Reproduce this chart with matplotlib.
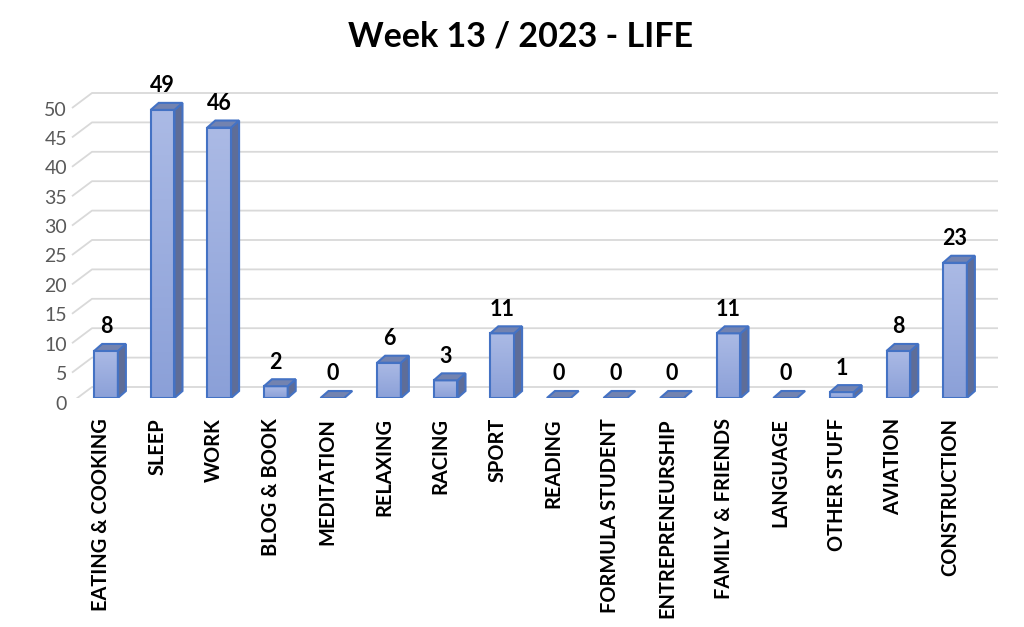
# -*- coding: utf-8 -*-
"""
    Week 13 / 2023 - LIFE : 3D-style bar chart (Excel look)
"""
import numpy as np
import matplotlib.pyplot as plt
from matplotlib.patches import Polygon, Rectangle
from matplotlib.colors import LinearSegmentedColormap
from matplotlib.transforms import offset_copy

plt.rcParams['font.family'] = ['Lato', 'DejaVu Sans']

categories = ['EATING & COOKING', 'SLEEP', 'WORK', 'BLOG & BOOK', 'MEDITATION',
              'RELAXING', 'RACING', 'SPORT', 'READING', 'FORMULA STUDENT',
              'ENTREPRENEURSHIP', 'FAMILY & FRIENDS', 'LANGUAGE', 'OTHER STUFF',
              'AVIATION', 'CONSTRUCTION']
hours = [8, 49, 46, 2, 0, 6, 3, 11, 0, 0, 0, 11, 0, 1, 8, 23]
y_ticks = [0, 5, 10, 15, 20, 25, 30, 35, 40, 45, 50]
title = 'Week 13 / 2023 - LIFE'

# pixel geometry of the picture
W, H = 1024, 627
x0_px, step_px = 106, 56.6      # first bar centre, bar spacing
y0_px, unit_px = 398, 5.88      # bar baseline, pixels per hour
ax_l, ax_r, ax_t = 60, 1010, 60


def px_x(p):
    return p / step_px


def px_y(p):
    return p / unit_px


fig = plt.figure(figsize=(W / 100, H / 100), dpi=100)
ax = fig.add_axes([ax_l / W, 1 - y0_px / H, (ax_r - ax_l) / W, (y0_px - ax_t) / H])
xlim = ((ax_l - x0_px) / step_px, (ax_r - x0_px) / step_px)
ylim = (0, (y0_px - ax_t) / unit_px)
ax.axis('off')

# floor / wall gridlines
grid_c = '#d9d9d9'
for v in y_ticks:
    yf = v - px_y(4)
    yb = v + px_y(11)
    xf = (72 - x0_px) / step_px
    xb = (92 - x0_px) / step_px
    xe = (998 - x0_px) / step_px
    ax.plot([xf, xb, xe], [yf, yb, yb], color=grid_c, lw=1.3, zorder=1,
            solid_capstyle='butt')
    ax.text((67 - x0_px) / step_px, yf - px_y(2), str(v), ha='right', va='center',
            fontsize=14, color='#595959')

# bars
bar_w = 0.42
dx, dy = px_x(8), px_y(7)
edge = '#4472c4'
cmap = LinearSegmentedColormap.from_list('front', ['#8ba0d8', '#abbae5'])
grad = np.linspace(0, 1, 100).reshape(-1, 1)
x = np.arange(len(categories))

for xi, v in zip(x, hours):
    l, r = xi - bar_w / 2, xi + bar_w / 2
    if v > 0:
        ax.imshow(grad, extent=[l, r, 0, v], origin='lower', aspect='auto',
                  cmap=cmap, zorder=3)
        ax.add_patch(Rectangle((l, 0), bar_w, v, fill=False, ec=edge, lw=1.5, zorder=4))
        side = Polygon([(r, 0), (r + dx, dy), (r + dx, v + dy), (r, v)],
                       closed=True, fc='#5e6d98', ec=edge, lw=1.5, zorder=4)
        ax.add_patch(side)
    top = Polygon([(l, v), (l + dx, v + dy), (r + dx, v + dy), (r, v)],
                  closed=True, fc='#7383b0', ec=edge, lw=1.5, zorder=5)
    ax.add_patch(top)
    ax.text(xi, v + px_y(24), str(v), ha='center', va='center',
            fontsize=15.5, fontweight='bold', color='black')

# category labels
lab_tr = offset_copy(ax.transData, fig=fig, x=-5, y=-20, units='dots')
for xi, name in zip(x, categories):
    ax.text(xi, 0, name, rotation=90, ha='center', va='top', fontsize=14.4,
            fontweight='bold', color='black', transform=lab_tr)

ax.set_xlim(*xlim)
ax.set_ylim(*ylim)

fig.text(520 / W, 1 - 36 / H, title, ha='center', va='center', fontsize=24.5,
         fontweight='bold', color='black')

plt.savefig('out.png', dpi=100)
